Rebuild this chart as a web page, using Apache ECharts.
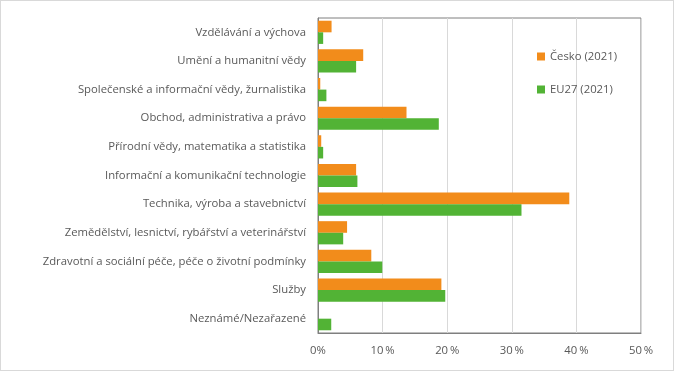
<!DOCTYPE html>
<html><head><meta charset="utf-8">
<script src="https://cdn.jsdelivr.net/npm/echarts@6/dist/echarts.min.js"></script>
<style>
html,body{margin:0;padding:0;background:#fff;}
#c{width:672px;height:369px;border:1px solid #d9d9d9;}
</style></head>
<body><div id="c"></div>
<script>
const categories = [
  'Vzdělávání a výchova',
  'Umění a humanitní vědy',
  'Společenské a informační vědy, žurnalistika',
  'Obchod, administrativa a právo',
  'Přírodní vědy, matematika a statistika',
  'Informační a komunikační technologie',
  'Technika, výroba a stavebnictví',
  'Zemědělství, lesnictví, rybářství a veterinářství',
  'Zdravotní a sociální péče, péče o životní podmínky',
  'Služby',
  'Neznámé/Nezařazené'
];
const cesko = [2.1, 7.0, 0.35, 13.7, 0.5, 5.9, 38.9, 4.5, 8.25, 19.1, 0];
const eu27 = [0.8, 5.9, 1.3, 18.7, 0.8, 6.1, 31.5, 3.9, 9.95, 19.7, 2.05];
const seriesNames = ['Česko (2021)', 'EU27 (2021)'];
const xTicks = ['0%', '10\u2009%', '20\u2009%', '30\u2009%', '40\u2009%', '50\u2009%'];

const chart = echarts.init(document.getElementById('c'));
const font = '"Open Sans", "Noto Sans", sans-serif';
chart.setOption({
  animation: false,
  textStyle: {fontFamily: font},
  grid: {left: 317, right: 32, top: 17, bottom: 37, show: true, borderColor: '#7f7f7f', borderWidth: 1, containLabel: false},
  legend: {
    orient: 'vertical', right: 56, top: 50, padding: 0, itemGap: 22, itemWidth: 8, itemHeight: 8,
    icon: 'rect',
    textStyle: {color: '#595959', fontSize: 11.3, fontFamily: font},
    data: seriesNames
  },
  xAxis: {
    type: 'value', min: 0, max: 50, interval: 10,
    axisLine: {show: true, lineStyle: {color: '#7f7f7f'}},
    axisTick: {show: false},
    splitLine: {show: true, lineStyle: {color: '#d9d9d9'}},
    axisLabel: {color: '#595959', fontSize: 11.3, margin: 12, fontFamily: font,
      formatter: (v) => xTicks[Math.round(v / 10)]}
  },
  yAxis: {
    type: 'category', data: categories, inverse: true,
    axisLine: {show: true, lineStyle: {color: '#7f7f7f'}},
    axisTick: {show: false},
    axisLabel: {color: '#595959', fontSize: 11.3, margin: 12, fontFamily: font}
  },
  series: [
    {name: seriesNames[0], type: 'bar', data: cesko, itemStyle: {color: '#f28c1b'}, barGap: '0%', barCategoryGap: '19%'},
    {name: seriesNames[1], type: 'bar', data: eu27, itemStyle: {color: '#52b335'}, barGap: '0%', barCategoryGap: '19%'}
  ]
});
</script></body></html>
